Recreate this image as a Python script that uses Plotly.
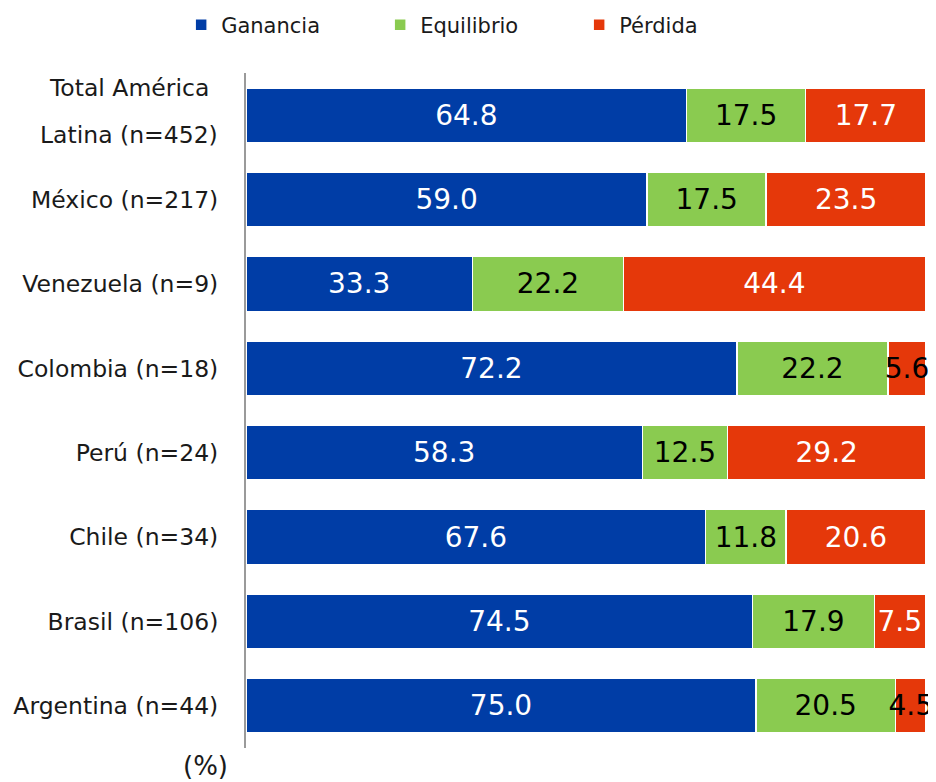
import plotly.graph_objects as go

categories = ["Total América Latina (n=452)", "México (n=217)", "Venezuela (n=9)",
              "Colombia (n=18)", "Perú (n=24)", "Chile (n=34)", "Brasil (n=106)",
              "Argentina (n=44)"]
tick_labels = ["", "México (n=217)", "Venezuela (n=9)", "Colombia (n=18)",
               "Perú (n=24)", "Chile (n=34)", "Brasil (n=106)", "Argentina (n=44)"]
first_label_lines = ["Total América", "Latina (n=452)"]

ganancia = [64.8, 59.0, 33.3, 72.2, 58.3, 67.6, 74.5, 75.0]
equilibrio = [17.5, 17.5, 22.2, 22.2, 12.5, 11.8, 17.9, 20.5]
perdida = [17.7, 23.5, 44.4, 5.6, 29.2, 20.6, 7.5, 4.5]

series_names = ["Ganancia", "Equilibrio", "Pérdida"]
colors = ["#003DA6", "#8ACB50", "#E5380A"]
perdida_text_colors = ["white", "white", "white", "black", "white", "white", "white", "black"]
text_colors = [["white"] * 8, ["black"] * 8, perdida_text_colors]

FONT = "DejaVu Sans"

fig = go.Figure()
for name, vals, col, tcol in zip(series_names, [ganancia, equilibrio, perdida], colors, text_colors):
    fig.add_trace(go.Bar(
        y=categories, x=vals, name=name, orientation="h",
        marker=dict(color=col, line=dict(color="white", width=1.5)),
        text=[f"{v:.1f}" for v in vals], texttemplate="%{text}",
        textposition="inside", insidetextanchor="middle",
        constraintext="none", textangle=0, cliponaxis=False,
        textfont=dict(family=FONT, size=28, color=tcol),
        hoverinfo="skip",
    ))

fig.add_annotation(x=-0.172, xref="paper", y=categories[0], yref="y",
                   text=first_label_lines[0], showarrow=False, yshift=27,
                   xanchor="center", font=dict(family=FONT, size=23.5, color="#1a1a1a"))
fig.add_annotation(x=-0.172, xref="paper", y=categories[0], yref="y",
                   text=first_label_lines[1], showarrow=False, yshift=-20,
                   xanchor="center", font=dict(family=FONT, size=23.5, color="#1a1a1a"))
fig.add_annotation(x=-0.060, xref="paper", y=-0.026, yref="paper",
                   text="(%)", showarrow=False, xanchor="center", yanchor="middle",
                   font=dict(family=FONT, size=26, color="#1a1a1a"))

fig.update_layout(
    width=936, height=782,
    barmode="stack", bargap=0.35,
    margin=dict(l=238, r=18, t=65, b=42, autoexpand=False),
    paper_bgcolor="white", plot_bgcolor="white",
    font=dict(family=FONT, color="#1a1a1a"),
    showlegend=True,
    legend=dict(orientation="h", xref="container", yref="paper",
                x=0.185, y=1.071, xanchor="left", yanchor="middle",
                font=dict(family=FONT, size=21, color="#1a1a1a"),
                entrywidth=154, entrywidthmode="pixels", itemwidth=30,
                traceorder="normal"),
    xaxis=dict(range=[0, 100], visible=False, fixedrange=True),
    yaxis=dict(type="category", autorange="reversed", automargin=False,
               tickmode="array", tickvals=categories, ticktext=tick_labels,
               showline=True, linecolor="#9a9a9a", linewidth=2,
               ticks="", ticklabelstandoff=21, showgrid=False,
               tickfont=dict(family=FONT, size=23.5, color="#1a1a1a")),
)

fig.write_html("out.html")
